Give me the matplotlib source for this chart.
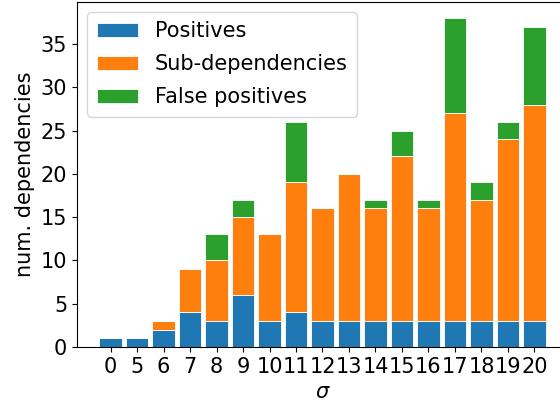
import matplotlib
matplotlib.use("Agg")
import matplotlib.pyplot as plt
import numpy as np

sigmas = ["0", "5", "6", "7", "8", "9", "10", "11", "12", "13", "14", "15", "16", "17", "18", "19", "20"]
positives = [1, 1, 2, 4, 3, 6, 3, 4, 3, 3, 3, 3, 3, 3, 3, 3, 3]
sub_dependencies = [0, 0, 1, 5, 7, 9, 10, 15, 13, 17, 13, 19, 13, 24, 14, 21, 25]
false_positives = [0, 0, 0, 0, 3, 2, 0, 7, 0, 0, 1, 3, 1, 11, 2, 2, 9]

plt.rcParams['font.size'] = 15
fig = plt.figure(figsize=(5.6, 4.08), dpi=100)
ax = fig.add_axes([77/560, 1 - 347/408, (568 - 77)/560, (347 - 1.5)/408])

x = np.arange(len(sigmas))
p = np.array(positives)
s = np.array(sub_dependencies)
f = np.array(false_positives)
kw = dict(width=0.85, edgecolor='white', linewidth=0.6)
ax.bar(x, p, color='#1f77b4', label='Positives', **kw)
ax.bar(x, s, bottom=p, color='#ff7f0e', label='Sub-dependencies', **kw)
ax.bar(x, f, bottom=p + s, color='#2ca02c', label='False positives', **kw)

ax.set_xticks(x)
ax.set_xticklabels(sigmas)
ax.set_yticks([0, 5, 10, 15, 20, 25, 30, 35])
ax.set_xlabel(r'$\sigma$')
ax.set_ylabel('num. dependencies')
ax.legend(loc='upper left', labelspacing=0.62, borderpad=0.45)
fig.savefig('out.png', dpi=100)
